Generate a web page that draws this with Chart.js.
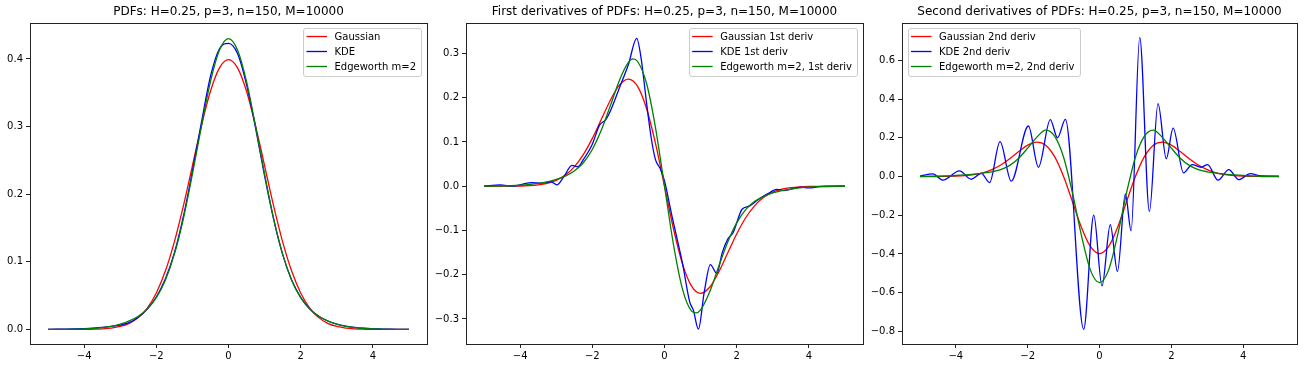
<!DOCTYPE html>
<html>
<head>
<meta charset="utf-8">
<script src="https://cdn.jsdelivr.net/npm/chart.js@4.4.1/dist/chart.umd.min.js"></script>
<style>
  html, body { margin: 0; padding: 0; background: #fff; }
  .panel { position: absolute; top: 0; height: 368px; }
</style>
</head>
<body>
<div class="panel" style="left:0;width:435px"><canvas id="pdfChart"></canvas></div>
<div class="panel" style="left:435px;width:435px"><canvas id="d1Chart"></canvas></div>
<div class="panel" style="left:870px;width:434px"><canvas id="d2Chart"></canvas></div>
<script>
    "use strict";

    // shared x grid (step 0.25)
    const xGrid = [-5, -4.75, -4.5, -4.25, -4, -3.75, -3.5, -3.25, -3, -2.75, -2.5, -2.25, -2, -1.75, -1.5, -1.25, -1, -0.75, -0.5, -0.25,
        0, 0.25, 0.5, 0.75, 1, 1.25, 1.5, 1.75, 2, 2.25, 2.5, 2.75, 3, 3.25, 3.5, 3.75, 4, 4.25, 4.5, 4.75, 5];

    // PDFs
    const pdfGauss = [0.0000, 0.0000, 0.0000, 0.0001, 0.0001, 0.0004, 0.0009, 0.0020, 0.0044, 0.0091, 0.0175, 0.0317, 0.0540, 0.0863, 0.1295, 0.1826, 0.2420, 0.3011, 0.3521, 0.3867,
        0.3989, 0.3867, 0.3521, 0.3011, 0.2420, 0.1826, 0.1295, 0.0863, 0.0540, 0.0317, 0.0175, 0.0091, 0.0044, 0.0020, 0.0009, 0.0004, 0.0001, 0.0001, 0.0000, 0.0000, 0.0000];
    const pdfKde = [0.0002, 0.0003, 0.0005, 0.0008, 0.0013, 0.0020, 0.0030, 0.0045, 0.0065, 0.0100, 0.0180, 0.0300, 0.0480, 0.0745, 0.1130, 0.1670, 0.2340, 0.3060, 0.3740, 0.4150,
        0.4230, 0.4080, 0.3620, 0.2980, 0.2270, 0.1630, 0.1110, 0.0730, 0.0475, 0.0305, 0.0195, 0.0125, 0.0080, 0.0050, 0.0030, 0.0018, 0.0010, 0.0006, 0.0003, 0.0002, 0.0001];
    const pdfEdge = [0.0000, 0.0001, 0.0002, 0.0004, 0.0007, 0.0014, 0.0027, 0.0046, 0.0078, 0.0126, 0.0196, 0.0303, 0.0470, 0.0729, 0.1113, 0.1640, 0.2295, 0.3003, 0.3663, 0.4130,
        0.4300, 0.4130, 0.3663, 0.3003, 0.2295, 0.1640, 0.1113, 0.0729, 0.0470, 0.0303, 0.0196, 0.0126, 0.0078, 0.0046, 0.0027, 0.0014, 0.0007, 0.0004, 0.0002, 0.0001, 0.0000];

    // first derivatives
    const d1Gauss = [0.0000, 0.0000, 0.0001, 0.0002, 0.0005, 0.0013, 0.0031, 0.0066, 0.0133, 0.0250, 0.0438, 0.0713, 0.1080, 0.1511, 0.1943, 0.2283, 0.2420, 0.2259, 0.1760, 0.0967,
        0.0000, -0.0967, -0.1760, -0.2259, -0.2420, -0.2283, -0.1943, -0.1511, -0.1080, -0.0713, -0.0438, -0.0250, -0.0133, -0.0066, -0.0031, -0.0013, -0.0005, -0.0002, -0.0001, 0.0000, 0.0000];
    // edgeworth 1st deriv has its extrema near +-0.875, so it gets two extra x values
    const d1EdgeX = [-5, -4.75, -4.5, -4.25, -4, -3.75, -3.5, -3.25, -3, -2.75, -2.5, -2.25, -2, -1.75, -1.5, -1.25, -1, -0.875, -0.75, -0.5, -0.25,
        0, 0.25, 0.5, 0.75, 0.875, 1, 1.25, 1.5, 1.75, 2, 2.25, 2.5, 2.75, 3, 3.25, 3.5, 3.75, 4, 4.25, 4.5, 4.75, 5];
    const d1Edge = [0.0001, 0.0002, 0.0005, 0.0010, 0.0021, 0.0038, 0.0064, 0.0100, 0.0152, 0.0228, 0.0342, 0.0529, 0.0829, 0.1267, 0.1820, 0.2390, 0.2795, 0.2875, 0.2823, 0.2331, 0.1325,
        0.0000, -0.1325, -0.2331, -0.2823, -0.2864, -0.2795, -0.2390, -0.1820, -0.1267, -0.0829, -0.0529, -0.0342, -0.0228, -0.0152, -0.0100, -0.0064, -0.0038, -0.0021, -0.0010, -0.0005, -0.0002, -0.0001];
    const d1KdeX = [-5.0, -4.55, -4.2, -3.7, -3.4, -3.15, -2.98, -2.8, -2.56, -2.4, -2.25, -2.0, -1.8, -1.63, -1.5, -1.25, -1.0, -0.77,
        -0.65, -0.5, -0.37, -0.25, -0.12, 0.0, 0.2, 0.5, 0.7, 0.8, 0.94, 1.1, 1.27, 1.45, 1.6, 1.75, 1.9, 2.15, 2.35, 2.6, 2.84, 3.12, 3.3, 3.77, 4.0, 4.3, 5.0];
    const d1KdeY = [0.000, 0.003, 0.000, 0.008, 0.007, 0.010, 0.003, 0.020, 0.047, 0.044, 0.060, 0.095, 0.138, 0.150, 0.170, 0.222, 0.275, 0.334,
        0.290, 0.190, 0.110, 0.060, 0.040, 0.012, -0.065, -0.175, -0.262, -0.280, -0.323, -0.240, -0.177, -0.197, -0.150, -0.120, -0.105, -0.052, -0.045, -0.030, -0.018, -0.007, -0.010, -0.002, -0.004, -0.001, 0.000];

    // second derivatives
    const d2Gauss = [0.0000, 0.0001, 0.0003, 0.0008, 0.0020, 0.0046, 0.0098, 0.0194, 0.0355, 0.0597, 0.0919, 0.1288, 0.1620, 0.1780, 0.1619, 0.1027, 0.0000, -0.1317, -0.2641, -0.3625,
        -0.3989, -0.3625, -0.2641, -0.1317, 0.0000, 0.1027, 0.1619, 0.1780, 0.1620, 0.1288, 0.0919, 0.0597, 0.0355, 0.0194, 0.0098, 0.0046, 0.0020, 0.0008, 0.0003, 0.0001, 0.0000];
    const d2Edge = [0.0003, 0.0007, 0.0015, 0.0030, 0.0053, 0.0085, 0.0125, 0.0176, 0.0245, 0.0362, 0.0578, 0.0945, 0.1467, 0.2021, 0.2400, 0.2086, 0.0999, -0.0872, -0.3065, -0.4847,
        -0.5480, -0.4847, -0.3065, -0.0872, 0.0999, 0.2086, 0.2400, 0.2021, 0.1467, 0.0945, 0.0578, 0.0362, 0.0245, 0.0176, 0.0125, 0.0085, 0.0053, 0.0030, 0.0015, 0.0007, 0.0003];
    const d2KdeX = [-5.0, -4.64, -4.36, -3.9, -3.57, -3.29, -3.06, -2.77, -2.46, -1.98, -1.7, -1.37, -1.17, -0.95, -0.44, -0.16, 0.07, 0.3, 0.5,
        0.72, 0.88, 1.12, 1.39, 1.63, 1.86, 2.05, 2.34, 2.58, 2.83, 3.01, 3.3, 3.6, 3.88, 4.2, 4.5, 5.0];
    const d2KdeY = [0.002, 0.014, -0.019, 0.029, -0.014, 0.016, -0.031, 0.180, -0.024, 0.261, 0.048, 0.294, 0.200, 0.295, -0.789, -0.199, -0.565, -0.249, -0.490,
        -0.090, -0.280, 0.719, -0.180, 0.377, 0.092, 0.250, 0.019, 0.062, 0.048, 0.062, -0.019, 0.036, -0.016, 0.015, 0.003, 0.002];

    // tick labels
    const xTicks = [-4, -2, 0, 2, 4];
    const pdfTicks = [0, 0.1, 0.2, 0.3, 0.4];
    const d1Ticks = [-0.3, -0.2, -0.1, 0, 0.1, 0.2, 0.3];
    const d2Ticks = [-0.8, -0.6, -0.4, -0.2, 0, 0.2, 0.4, 0.6];

    const FONT = '"DejaVu Sans", sans-serif';

    function pts(xs, ys) {
        return xs.map((x, i) => ({ x: x, y: ys[i] }));
    }

    function minus(s) {
        return s.replace('-', '\u2212');
    }

    // matplotlib-like frame around the axes
    const frame = {
        id: 'frame',
        afterDatasetsDraw(chart) {
            const { ctx, chartArea: a } = chart;
            ctx.save();
            ctx.strokeStyle = '#222';
            ctx.lineWidth = 1;
            ctx.strokeRect(Math.round(a.left) + 0.5, Math.round(a.top) + 0.5,
                Math.round(a.right - a.left), Math.round(a.bottom - a.top));
            ctx.restore();
        }
    };

    // legend drawn inside the axes
    const innerLegend = {
        id: 'innerLegend',
        afterDatasetsDraw(chart, args, opts) {
            const { ctx, chartArea: a } = chart;
            const sets = chart.data.datasets;
            ctx.save();
            ctx.font = '10px ' + FONT;
            const textW = Math.max(...sets.map(d => ctx.measureText(d.label).width));
            const w = 3.5 + 20.5 + 7.5 + textW + 5;
            const h = 47.5;
            const x = opts.side === 'left' ? a.left + 5.5 : a.right - 6 - w;
            const y = a.top + 5;
            ctx.beginPath();
            ctx.roundRect(Math.round(x) + 0.5, Math.round(y) + 0.5, Math.round(w), Math.round(h), 2.5);
            ctx.fillStyle = 'rgba(255,255,255,0.8)';
            ctx.fill();
            ctx.strokeStyle = '#cccccc';
            ctx.lineWidth = 1;
            ctx.stroke();
            sets.forEach((d, i) => {
                const cy = Math.round(y + 7.7 + i * 15) + 0.5;
                ctx.beginPath();
                ctx.moveTo(x + 3.5, cy);
                ctx.lineTo(x + 24, cy);
                ctx.strokeStyle = d.borderColor;
                ctx.lineWidth = 1.3;
                ctx.stroke();
                ctx.fillStyle = '#000';
                ctx.textBaseline = 'middle';
                ctx.fillText(d.label, x + 31.5, cy + 0.5);
            });
            ctx.restore();
        }
    };

    function series(label, color, data, order) {
        return {
            label: label,
            data: data,
            borderColor: color,
            borderWidth: 1.3,
            pointRadius: 0,
            fill: false,
            cubicInterpolationMode: 'monotone',
            order: order
        };
    }

    // axW / padRight give the plot box; title is not fullSize so it is
    // centred over the axes, like matplotlib does
    function makePanel(id, title, datasets, yTicks, yMin, yMax, axW, padRight, side) {
        return new Chart(document.getElementById(id), {
            type: 'line',
            data: { datasets: datasets },
            plugins: [frame, innerLegend],
            options: {
                responsive: true,
                maintainAspectRatio: false,
                animation: false,
                layout: { padding: { left: 0, right: padRight, top: 0, bottom: 0 } },
                plugins: {
                    legend: { display: false },
                    tooltip: { enabled: false },
                    title: {
                        display: true,
                        fullSize: false,
                        text: title,
                        color: '#000',
                        font: { family: FONT, size: 12, weight: 'normal', lineHeight: 1.2 },
                        padding: { top: 5, bottom: 4 }
                    },
                    innerLegend: { side: side }
                },
                scales: {
                    x: {
                        type: 'linear',
                        min: -5.5,
                        max: 5.5,
                        afterBuildTicks: scale => { scale.ticks = xTicks.map(v => ({ value: v })); },
                        afterFit: scale => { scale.height = 24; },
                        grid: { drawOnChartArea: false, drawTicks: true, tickLength: 4, color: '#222' },
                        border: { display: false },
                        ticks: {
                            color: '#000',
                            padding: 2,
                            maxRotation: 0,
                            autoSkip: false,
                            font: { family: FONT, size: 10 },
                            callback: v => minus(String(v))
                        }
                    },
                    y: {
                        type: 'linear',
                        min: yMin,
                        max: yMax,
                        afterBuildTicks: scale => { scale.ticks = yTicks.map(v => ({ value: v })); },
                        afterFit: scale => { scale.width = axW; },
                        grid: { drawOnChartArea: false, drawTicks: true, tickLength: 4, color: '#222' },
                        border: { display: false },
                        ticks: {
                            color: '#000',
                            padding: 3,
                            autoSkip: false,
                            font: { family: FONT, size: 10 },
                            callback: v => minus(v.toFixed(1))
                        }
                    }
                }
            }
        });
    }

    // PDFs
    makePanel('pdfChart', 'PDFs: H=0.25, p=3, n=150, M=10000', [
        series('Gaussian', 'red', pts(xGrid, pdfGauss), 2),
        series('KDE', 'blue', pts(xGrid, pdfKde), 1),
        series('Edgeworth m=2', 'green', pts(xGrid, pdfEdge), 0)
    ], pdfTicks, -0.0215, 0.4525, 30, 8, 'right');

    // first derivatives
    makePanel('d1Chart', 'First derivatives of PDFs: H=0.25, p=3, n=150, M=10000', [
        series('Gaussian 1st deriv', 'red', pts(xGrid, d1Gauss), 2),
        series('KDE 1st deriv', 'blue', pts(d1KdeX, d1KdeY), 1),
        series('Edgeworth m=2, 1st deriv', 'green', pts(d1EdgeX, d1Edge), 0)
    ], d1Ticks, -0.3565, 0.3678, 31, 7, 'right');

    // second derivatives
    makePanel('d2Chart', 'Second derivatives of PDFs: H=0.25, p=3, n=150, M=10000', [
        series('Gaussian 2nd deriv', 'red', pts(xGrid, d2Gauss), 2),
        series('KDE 2nd deriv', 'blue', pts(d2KdeX, d2KdeY), 1),
        series('Edgeworth m=2, 2nd deriv', 'green', pts(xGrid, d2Edge), 0)
    ], d2Ticks, -0.865, 0.791, 32, 7, 'left');
</script>
</body>
</html>
